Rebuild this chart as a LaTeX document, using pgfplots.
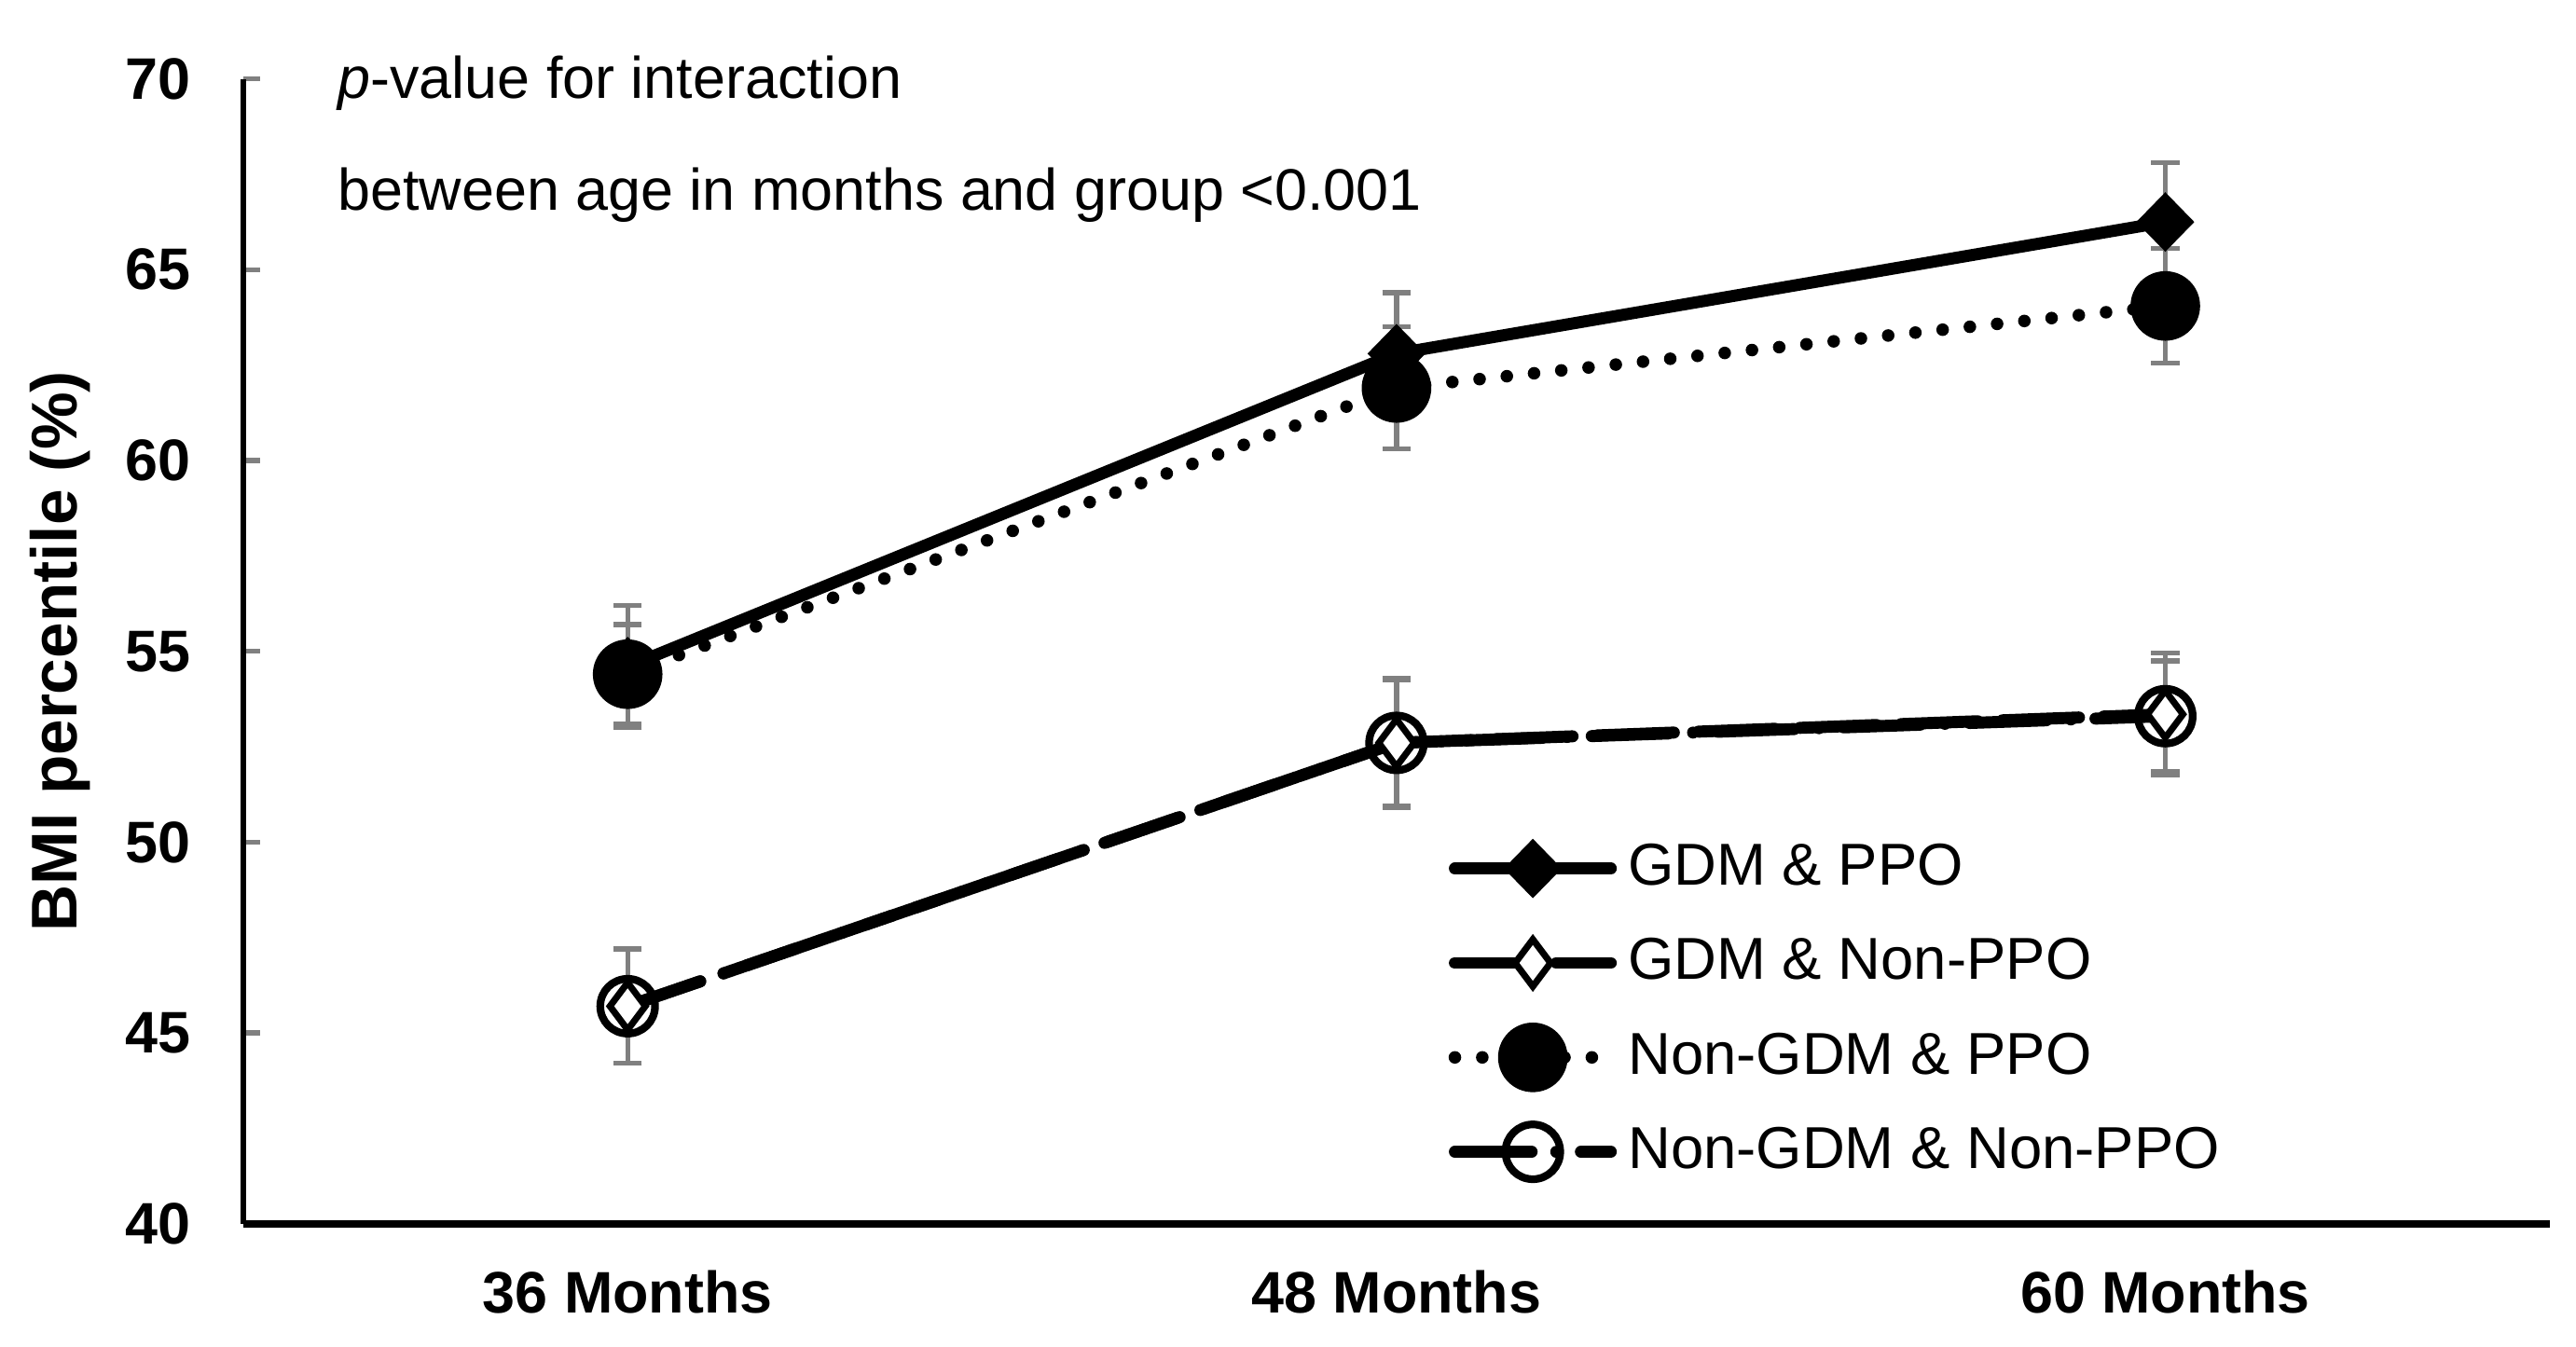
\documentclass[border=0pt]{standalone}
\usepackage{pgfplots}
\pgfplotsset{compat=1.18}
\usepackage{pgfplotstable}
\usepackage{fontspec}
\setmainfont{Liberation Sans}

% BMI percentile by age, four groups (mean and error)
\pgfplotstableread{
x A Aerr B Berr C Cerr D Derr
0 54.6 1.6 54.4 1.3 45.7 1.5 45.7 1.5
1 62.8 1.6 61.9 1.6 52.6 1.7 52.6 1.65
2 66.25 1.55 64.05 1.5 53.35 1.6 53.3 1.45
}\bmidata

\begin{document}
\begin{tikzpicture}
\begin{axis}[
    scale only axis,
    width=421pt, height=209pt,
    xmin=-0.5, xmax=2.5, ymin=40, ymax=70,
    axis lines=left,
    axis line style={-, line width=0.9pt},
    x axis line style={line width=1.3pt},
    xtick={0,1,2},
    xticklabels={36 Months,48 Months,60 Months},
    xtick style={draw=none},
    ytick={40,45,...,70},
    tick align=inside,
    major tick length=3pt,
    ytick style={line width=0.9pt},
    /pgf/number format/assume math mode=true,
    tick label style={font=\fontsize{10.7}{12}\selectfont\bfseries},
    yticklabel style={xshift=-6pt},
    xticklabel style={yshift=-5pt},
    ylabel={BMI percentile (\%)},
    ylabel style={font=\fontsize{11.8}{13}\selectfont\bfseries,
        at={(axis description cs:-0.058,0.5)}, anchor=south},
    clip=false,
    legend style={draw=none, fill=none,
        at={(rel axis cs:0.515,0.352)}, anchor=north west,
        font=\fontsize{10.8}{12}\selectfont,
        row sep=4.2pt, cells={anchor=west}},
    legend image code/.code={\draw[mark repeat=2,mark phase=2,#1]
        plot coordinates {(0cm,0cm) (0.5cm,0cm) (1cm,0cm)};},
]
% error bars first so the markers sit on top
\addplot[gray, only marks, mark=none, forget plot,
    error bars/.cd, y dir=both, y explicit,
    error bar style={gray, line width=0.9pt},
    error mark options={rotate=90, mark size=2.6pt, gray, line width=0.9pt}]
    table[x=x, y=A, y error=Aerr] {\bmidata};
\addplot[gray, only marks, mark=none, forget plot,
    error bars/.cd, y dir=both, y explicit,
    error bar style={gray, line width=0.9pt},
    error mark options={rotate=90, mark size=2.6pt, gray, line width=0.9pt}]
    table[x=x, y=B, y error=Berr] {\bmidata};
\addplot[gray, only marks, mark=none, forget plot,
    error bars/.cd, y dir=both, y explicit,
    error bar style={gray, line width=0.9pt},
    error mark options={rotate=90, mark size=2.6pt, gray, line width=0.9pt}]
    table[x=x, y=C, y error=Cerr] {\bmidata};
\addplot[gray, only marks, mark=none, forget plot,
    error bars/.cd, y dir=both, y explicit,
    error bar style={gray, line width=0.9pt},
    error mark options={rotate=90, mark size=2.6pt, gray, line width=0.9pt}]
    table[x=x, y=D, y error=Derr] {\bmidata};

\addplot[black, line width=2.2pt, line cap=round,
    mark=diamond*, mark size=5pt,
    mark options={solid, xscale=1.3, fill=black, line width=0.6pt}]
    table[x=x, y=A] {\bmidata};
\addlegendentry{GDM \& PPO}
\addplot[black, line width=2.2pt, line cap=round,
    dash pattern=on 14pt off 4.5pt,
    mark=diamond*, mark size=4.3pt,
    mark options={solid, fill=white, line width=1.2pt}]
    table[x=x, y=C] {\bmidata};
\addlegendentry{GDM \& Non-PPO}
\addplot[black, line width=2.3pt, line cap=round,
    dash pattern=on 0pt off 5pt,
    mark=*, mark size=5.2pt,
    mark options={solid, fill=black}]
    table[x=x, y=B] {\bmidata};
\addlegendentry{Non-GDM \& PPO}
\addplot[black, line width=2.2pt, line cap=round,
    dash pattern=on 14pt off 4.5pt on 0pt off 4.5pt,
    mark=o, mark size=5pt,
    mark options={solid, line width=1.4pt}]
    table[x=x, y=D] {\bmidata};
\addlegendentry{Non-GDM \& Non-PPO}

\node[anchor=base west, inner sep=0pt, font=\fontsize{10.7}{12}\selectfont]
    at (rel axis cs:0.0406,0.983) {\textit{p}-value for interaction};
\node[anchor=base west, inner sep=0pt, font=\fontsize{10.7}{12}\selectfont]
    at (rel axis cs:0.0406,0.885) {between age in months and group <0.001};
\end{axis}
\path ([xshift=-44.4pt,yshift=-22.5pt]current axis.south west)
    rectangle ([xshift=4.8pt,yshift=14.4pt]current axis.north east);
\end{tikzpicture}
\end{document}
